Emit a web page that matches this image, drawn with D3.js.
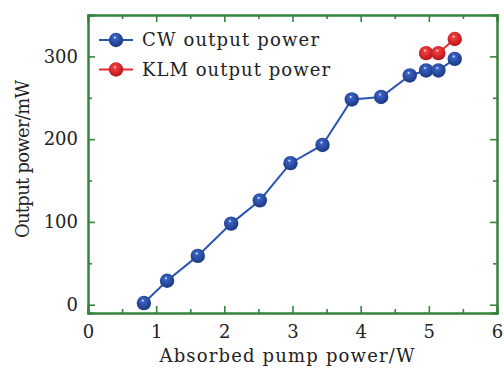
<!DOCTYPE html>
<html>
<head>
<meta charset="utf-8">
<script src="https://cdn.jsdelivr.net/npm/d3@7"></script>
<style>
  body { margin: 0; background: #fff; }
  text { font-family: "DejaVu Serif", "Liberation Serif", serif; fill: #222; }
</style>
</head>
<body>
<div id="chart"></div>
<script>
var cwPump = [0.82, 1.16, 1.61, 2.10, 2.52, 2.97, 3.44, 3.87, 4.30, 4.72, 4.96, 5.14, 5.38];
var cwPower = [2, 29, 59, 98, 126, 171, 193, 248, 251, 277, 283, 283, 297];
var klmPump = [4.96, 5.14, 5.38];
var klmPower = [304, 304, 321];
var xTicks = [0, 1, 2, 3, 4, 5, 6];
var yTicks = [0, 100, 200, 300];
var seriesNames = ['CW output power', 'KLM output power'];

var width = 504, height = 370;
var margin = { left: 88, right: 7, top: 15, bottom: 57 };
var axisColor = '#35843c';

var svg = d3.select('#chart').append('svg').attr('width', width).attr('height', height);

var x = d3.scaleLinear().domain([0, 6]).range([margin.left, width - margin.right]);
var y = d3.scaleLinear().domain([-10, 350]).range([height - margin.bottom, margin.top]);

// sphere-like marker gradients
var defs = svg.append('defs');
function sphere(id, base, dark) {
    var g = defs.append('radialGradient').attr('id', id)
        .attr('cx', '45%').attr('cy', '40%').attr('r', '60%').attr('fx', '42%').attr('fy', '32%');
    g.append('stop').attr('offset', '0%').attr('stop-color', '#ffffff');
    g.append('stop').attr('offset', '18%').attr('stop-color', base);
    g.append('stop').attr('offset', '100%').attr('stop-color', dark);
}
sphere('gBlue', '#3a63c4', '#1a3680');
sphere('gRed', '#f04040', '#b81218');

// axes (ticks inward)
function drawAxis(gen, tr) {
    var g = svg.append('g').attr('transform', tr).call(gen);
    g.select('.domain').attr('stroke', axisColor).attr('stroke-width', 2);
    g.selectAll('.tick line').attr('stroke', axisColor).attr('stroke-width', 1.6);
    g.selectAll('.tick text').style('font-size', '18px').style('font-family', '"DejaVu Serif", serif').attr('fill', '#222');
    return g;
}
var yb = height - margin.bottom, xl = margin.left, xr = width - margin.right, yt = margin.top;

// minor ticks
drawAxis(d3.axisBottom(x).tickValues(d3.range(0.5, 6, 1)).tickSize(-4).tickFormat(''), 'translate(0,' + yb + ')');
drawAxis(d3.axisTop(x).tickValues(d3.range(0.5, 6, 1)).tickSize(-4).tickFormat(''), 'translate(0,' + yt + ')');
drawAxis(d3.axisLeft(y).tickValues([-50, 50, 150, 250].filter(function(v){return v > -10;})).tickSize(-4).tickFormat(''), 'translate(' + xl + ',0)');
drawAxis(d3.axisRight(y).tickValues([50, 150, 250]).tickSize(-4).tickFormat(''), 'translate(' + xr + ',0)');

// major ticks
var bx = drawAxis(d3.axisBottom(x).tickValues(xTicks).tickSize(-7).tickPadding(12).tickFormat(d3.format('d')), 'translate(0,' + yb + ')');
drawAxis(d3.axisTop(x).tickValues(xTicks).tickSize(-7).tickFormat(''), 'translate(0,' + yt + ')');
drawAxis(d3.axisLeft(y).tickValues(yTicks).tickSize(-7).tickPadding(10).tickFormat(d3.format('d')), 'translate(' + xl + ',0)');
drawAxis(d3.axisRight(y).tickValues(yTicks).tickSize(-7).tickFormat(''), 'translate(' + xr + ',0)');

// axis titles
svg.append('text').attr('x', 287).attr('y', 362).attr('text-anchor', 'middle')
    .style('font-size', '18px').attr('textLength', 255).text('Absorbed pump power/W');
svg.append('text').attr('transform', 'translate(29,159) rotate(-90)').attr('text-anchor', 'middle')
    .style('font-size', '18px').attr('textLength', 158).text('Output power/mW');

// series
var line = d3.line().x(function(d) { return x(d[0]); }).y(function(d) { return y(d[1]); });
var cw = d3.zip(cwPump, cwPower);
var klm = d3.zip(klmPump, klmPower);

function drawSeries(data, color, grad) {
    svg.append('path').datum(data).attr('d', line).attr('fill', 'none')
        .attr('stroke', color).attr('stroke-width', 2);
    svg.append('g').selectAll('circle').data(data).enter().append('circle')
        .attr('cx', function(d) { return x(d[0]); })
        .attr('cy', function(d) { return y(d[1]); })
        .attr('r', 7.2)
        .attr('fill', 'url(#' + grad + ')');
}
drawSeries(cw, '#2a55b0', 'gBlue');
drawSeries(klm, '#e82a2e', 'gRed');

// legend
var legend = [[seriesNames[0], '#2a55b0', 'gBlue'], [seriesNames[1], '#e82a2e', 'gRed']];
legend.forEach(function(l, i) {
    var cy = 40 + i * 29.5;
    svg.append('line').attr('x1', 99).attr('x2', 133).attr('y1', cy).attr('y2', cy)
        .attr('stroke', l[1]).attr('stroke-width', 2);
    svg.append('circle').attr('cx', 116).attr('cy', cy).attr('r', 7.2).attr('fill', 'url(#' + l[2] + ')');
    svg.append('text').attr('x', 142).attr('y', cy + 6).style('font-size', '18px')
        .attr('textLength', i === 0 ? 177 : 188).text(l[0]);
});
</script>
</body>
</html>
